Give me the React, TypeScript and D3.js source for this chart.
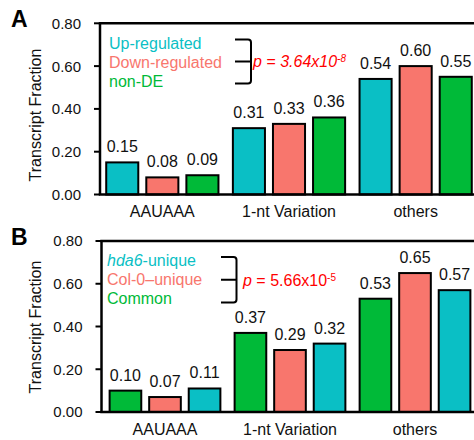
import React, { useEffect, useRef } from 'react';
import * as d3 from 'd3';

// shared categories and axis ticks
const categories = ['AAUAAA', '1-nt Variation', 'others'];
const yTicks = [0, 0.2, 0.4, 0.6, 0.8];

// panel A
const seriesA = ['Up-regulated', 'Down-regulated', 'non-DE'];
const upRegulated = [0.15, 0.31, 0.54];
const downRegulated = [0.08, 0.33, 0.6];
const nonDE = [0.09, 0.36, 0.55];

// panel B (bar order inside a group: Common, Col-0, hda6)
const seriesB = ['hda6-unique', 'Col-0\u2013unique', 'Common'];
const common = [0.1, 0.37, 0.53];
const col0Unique = [0.07, 0.29, 0.65];
const hda6Unique = [0.11, 0.32, 0.57];

const TEAL = '#0ABFC5';
const SALMON = '#F8766D';
const GREEN = '#00BA38';
const RED = '#FF0000';
const FONT = 'Arial, "Liberation Sans", sans-serif';

const drawPanel = (svg, cfg) => {
  const { top, bottom, left, right, axisX, label, labelY, bars, legend, legendX, legendY, bracket, pValue, titleY } = cfg;

  const g = svg.append('g');

  const x0 = d3.scaleBand().domain(categories).range([left, right]).padding(0);
  const x1 = d3.scaleBand().domain(d3.range(3)).range([0, x0.bandwidth()])
    .paddingInner(0.2).paddingOuter(0.18);
  const y = d3.scaleLinear().domain([0, 0.8]).range([bottom, top]);

  // panel letter
  g.append('text')
    .attr('x', 11).attr('y', labelY)
    .attr('font-size', 23).attr('font-weight', 'bold')
    .attr('font-family', FONT)
    .text(label);

  // bars
  categories.forEach((cat, ci) => {
    bars.forEach((s, si) => {
      const v = s.values[ci];
      const bx = x0(cat) + x1(si);
      g.append('rect')
        .attr('x', bx).attr('y', y(v))
        .attr('width', x1.bandwidth()).attr('height', y(0) - y(v))
        .attr('fill', s.color).attr('stroke', '#000').attr('stroke-width', 2);
      g.append('text')
        .attr('x', bx + x1.bandwidth() / 2).attr('y', y(v) - 10)
        .attr('text-anchor', 'middle').attr('font-size', 16)
        .attr('font-family', FONT).attr('fill', '#111')
        .text(v.toFixed(2));
    });
    g.append('text')
      .attr('x', x0(cat) + x0.bandwidth() / 2).attr('y', bottom + 22.5)
      .attr('text-anchor', 'middle').attr('font-size', 16)
      .attr('font-family', FONT).attr('fill', '#111')
      .text(cat);
  });

  // axes frame: left, bottom and top lines
  g.append('line').attr('x1', axisX).attr('x2', axisX).attr('y1', top).attr('y2', bottom)
    .attr('stroke', '#000').attr('stroke-width', 2.5);
  g.append('line').attr('x1', axisX - 1.25).attr('x2', 474).attr('y1', bottom).attr('y2', bottom)
    .attr('stroke', '#000').attr('stroke-width', 2.5);
  g.append('line').attr('x1', axisX - 1.25).attr('x2', 474).attr('y1', top).attr('y2', top)
    .attr('stroke', '#000').attr('stroke-width', 2.5);

  yTicks.forEach(t => {
    g.append('line').attr('x1', axisX - 6).attr('x2', axisX).attr('y1', y(t)).attr('y2', y(t))
      .attr('stroke', '#000').attr('stroke-width', 2);
    g.append('text')
      .attr('x', axisX - 19).attr('y', y(t)).attr('dy', '0.36em')
      .attr('text-anchor', 'end').attr('font-size', 15)
      .attr('font-family', FONT).attr('fill', '#111')
      .text(t.toFixed(2));
  });

  g.append('text')
    .attr('transform', `translate(41, ${titleY}) rotate(-90)`)
    .attr('text-anchor', 'middle').attr('font-size', 16)
    .attr('font-family', FONT).attr('fill', '#111')
    .text('Transcript Fraction');

  // legend
  legend.forEach((item, i) => {
    const t = g.append('text')
      .attr('x', legendX).attr('y', legendY + i * 19)
      .attr('font-size', 16).attr('font-family', FONT).attr('fill', item.color);
    if (item.italic) {
      t.append('tspan').attr('font-style', 'italic').text(item.italic);
    }
    t.append('tspan').text(item.text);
  });

  // bracket
  const { bx1, bx2, by1, by2 } = bracket;
  const bm = (by1 + by2) / 2;
  g.append('path')
    .attr('d', `M${bx1},${by1} H${bx2 - 3} Q${bx2},${by1} ${bx2},${by1 + 3} V${by2 - 3} Q${bx2},${by2} ${bx2 - 3},${by2} H${bx1} M${bx1},${bm} H${bx2}`)
    .attr('fill', 'none').attr('stroke', '#000').attr('stroke-width', 2);

  const pt = g.append('text')
    .attr('x', pValue.x).attr('y', pValue.y)
    .attr('font-size', 16).attr('font-family', FONT).attr('fill', RED)
    .attr('font-style', pValue.allItalic ? 'italic' : 'normal');
  pt.append('tspan').attr('font-style', 'italic').text('p');
  pt.append('tspan').text(` = ${pValue.base}`);
  pt.append('tspan').attr('font-size', 10).attr('dy', -5).text(pValue.exp);
};

const App = () => {
  const svgRef = useRef();

  useEffect(() => {
    const svg = d3.select(svgRef.current);
    svg.selectAll('*').remove();

    drawPanel(svg, {
      top: 23.3, bottom: 194.5, left: 99, right: 479, axisX: 100,
      label: 'A', labelY: 27, titleY: 115,
      bars: [
        { values: upRegulated, color: TEAL },
        { values: downRegulated, color: SALMON },
        { values: nonDE, color: GREEN },
      ],
      legend: [
        { text: seriesA[0], color: TEAL },
        { text: seriesA[1], color: SALMON },
        { text: seriesA[2], color: GREEN },
      ],
      legendX: 109, legendY: 49,
      bracket: { bx1: 235, bx2: 251, by1: 39.5, by2: 83.5 },
      pValue: { x: 253, y: 67, base: '3.64x10', exp: '-8', allItalic: true },
    });

    drawPanel(svg, {
      top: 241, bottom: 412, left: 102.5, right: 477.5, axisX: 101.5,
      label: 'B', labelY: 245, titleY: 327,
      bars: [
        { values: common, color: GREEN },
        { values: col0Unique, color: SALMON },
        { values: hda6Unique, color: TEAL },
      ],
      legend: [
        { italic: 'hda6', text: '-unique', color: TEAL },
        { text: seriesB[1], color: SALMON },
        { text: seriesB[2], color: GREEN },
      ],
      legendX: 107, legendY: 265.5,
      bracket: { bx1: 221, bx2: 236.5, by1: 257, by2: 302.5 },
      pValue: { x: 243, y: 286, base: '5.66x10', exp: '-5', allItalic: false },
    });
  }, []);

  return (
    <svg
      ref={svgRef}
      width={474}
      height={440}
      style={{ position: 'absolute', left: 0, top: 0, background: '#fff' }}
    />
  );
};

export default App;
